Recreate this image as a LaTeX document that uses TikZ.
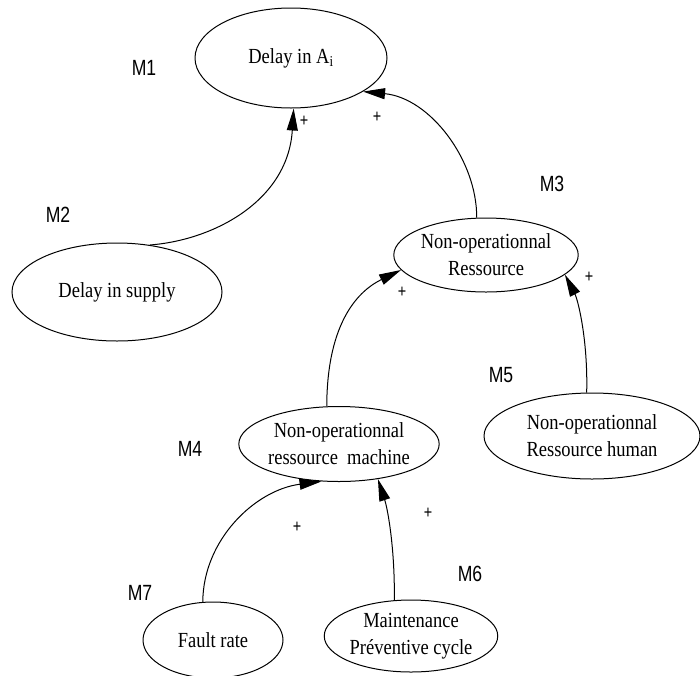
\documentclass[tikz,border=0pt]{standalone}
\usepackage{fontspec}
\setmainfont{Liberation Serif}[FakeStretch=0.86]
\newfontfamily\labfont{Liberation Sans}[FakeStretch=0.8]
\usetikzlibrary{shapes.geometric,arrows.meta}

\tikzset{
  factor/.style={draw, ellipse, line width=1pt, inner sep=0pt, align=center,
    font=\fontsize{21.5}{27}\selectfont},
  mlabel/.style={font=\labfont\fontsize{22}{26}\selectfont, inner sep=0pt},
  sign/.style={font=\labfont\fontsize{18}{20}\selectfont, inner sep=0pt},
  link/.style={line width=1pt, -{Triangle[length=22pt,width=11pt]}}
}

\begin{document}
\begin{tikzpicture}[x=1pt,y=-1pt]
\useasboundingbox (0,0) rectangle (700,675);

% factors
\node[factor, minimum width=192pt, minimum height=100pt] (A) at (291,58) {Delay in A\textsubscript{i}};
\node[factor, minimum width=210pt, minimum height=98pt] (S) at (117,292) {Delay in supply};
\node[factor, minimum width=184pt, minimum height=74pt] (R) at (486,255) {Non-operationnal\\Ressource};
\node[factor, minimum width=186pt, minimum height=75pt] (M) at (339,444) {Non-operationnal\\ressource\ \ machine};
\node[factor, minimum width=216pt, minimum height=86pt] (H) at (592,436) {Non-operationnal\\Ressource human};
\node[factor, minimum width=140pt, minimum height=76pt] (F) at (213,640) {Fault rate};
\node[factor, minimum width=158pt, minimum height=72pt] (P) at (411,636) {Maintenance\\Préventive cycle};

% model labels
\node[mlabel] (m1) at (144,68) {M1};
\node[mlabel] (m2) at (58,215) {M2};
\node[mlabel] (m3) at (552,184) {M3};
\node[mlabel] (m4) at (190,449) {M4};
\node[mlabel] (m5) at (501,375) {M5};
\node[mlabel] (m6) at (470,574) {M6};
\node[mlabel] (m7) at (140,593) {M7};

% causal links
\draw[link] (S.55) .. controls (215,240) and (288,200) .. (A.-87);
\draw[link] (R.104) .. controls (477,160) and (430,98) .. (A.-25);
\draw[link] (M.108) .. controls (327,320) and (360,290) .. (R.190);
\draw[link] (H.97) .. controls (588,340) and (578,300) .. (R.-14);
\draw[link] (F.105) .. controls (203,540) and (255,490) .. (M.-115);
\draw[link] (P.115) .. controls (395,550) and (388,510) .. (M.-42);

% link polarities
\node[sign] (s1) at (304,121) {+};
\node[sign] (s2) at (377,117) {+};
\node[sign] (s3) at (402,292) {+};
\node[sign] (s4) at (589,277) {+};
\node[sign] (s5) at (297,527) {+};
\node[sign] (s6) at (428,513) {+};
\end{tikzpicture}
\end{document}
